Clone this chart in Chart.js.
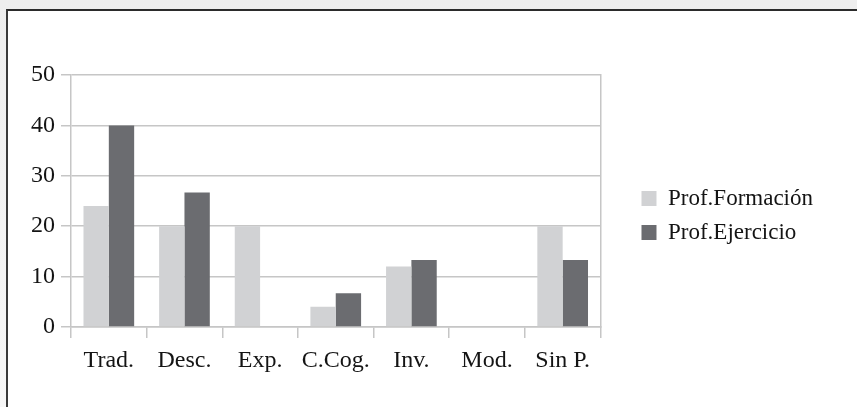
<!DOCTYPE html>
<html>
<head>
<meta charset="utf-8">
<script src="https://cdn.jsdelivr.net/npm/chart.js@4.4.1/dist/chart.umd.min.js"></script>
<style>
  html, body { margin: 0; padding: 0; width: 857px; height: 407px; overflow: hidden;
    background: linear-gradient(#eeeeee, #f7f7f7); }
  #frame { position: absolute; left: 6px; top: 9px; width: 851px; height: 398px;
    background: #ffffff; border-top: 2px solid #2b2b2b; border-left: 2px solid #3a3a3a; }
  canvas { display: block; }
</style>
</head>
<body>
<div id="frame"><canvas id="c" width="849" height="396"></canvas></div>
<script>
const categories = ['Trad.', 'Desc.', 'Exp.', 'C.Cog.', 'Inv.', 'Mod.', 'Sin P.'];
const seriesNames = ['Prof.Formación', 'Prof.Ejercicio'];
const formacion = [24, 20, 20, 4, 12, 0, 20];
const ejercicio = [40, 26.7, 0, 6.7, 13.3, 0, 13.3];
const yMin = 0, yMax = 50, yStep = 10;

const serif = '"Liberation Serif", "Times New Roman", serif';
const gridColor = '#c6c6c6';
const textColor = '#141414';

new Chart(document.getElementById('c'), {
  type: 'bar',
  data: {
    labels: categories,
    datasets: [
      { label: seriesNames[0], data: formacion, backgroundColor: '#d1d2d4', borderWidth: 0 },
      { label: seriesNames[1], data: ejercicio, backgroundColor: '#6b6c70', borderWidth: 0 }
    ]
  },
  options: {
    responsive: false,
    animation: false,
    devicePixelRatio: 1,
    categoryPercentage: 0.67,
    barPercentage: 1.0,
    layout: { padding: { top: 23, bottom: 10, left: 0, right: 34 } },
    plugins: {
      tooltip: { enabled: false },
      legend: {
        position: 'right',
        maxWidth: 300,
        labels: {
          font: { family: serif, size: 23 },
          color: textColor,
          boxWidth: 15,
          boxHeight: 15,
          padding: 11
        }
      }
    },
    scales: {
      x: {
        grid: { display: true, drawOnChartArea: false, drawTicks: true, tickLength: 11,
                color: gridColor, lineWidth: 1.5, offset: true },
        border: { display: true, color: gridColor, width: 1.5 },
        ticks: { font: { family: serif, size: 24 }, color: textColor, padding: 8, maxRotation: 0 },
        afterFit: (s) => { s.height = 70; }
      },
      xt: {
        position: 'top',
        grid: { display: false, drawTicks: false },
        border: { display: false },
        ticks: { display: false },
        afterFit: (s) => { s.height = 41; }
      },
      y: {
        min: yMin, max: yMax,
        ticks: { stepSize: yStep, font: { family: serif, size: 24 }, color: textColor, padding: 6 },
        grid: { color: gridColor, lineWidth: 1.5, tickLength: 10 },
        border: { display: true, color: gridColor, width: 1.5 },
        afterFit: (s) => { s.width = 63; }
      },
      yr: {
        position: 'right',
        min: yMin, max: yMax,
        grid: { drawOnChartArea: false, drawTicks: false },
        ticks: { display: false },
        border: { display: true, color: gridColor, width: 1.5 },
        afterFit: (s) => { s.width = 30; }
      }
    }
  }
});
</script>
</body>
</html>
